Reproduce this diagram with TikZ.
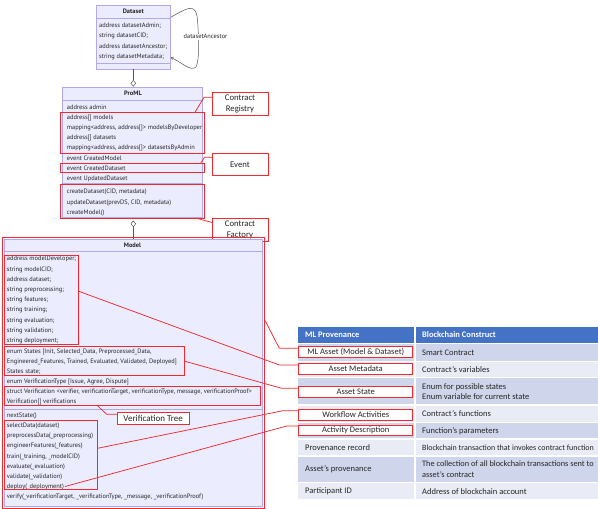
\documentclass[tikz,border=0pt]{standalone}
\usepackage{fontspec}
\setmainfont{PT Sans}
\newfontfamily\calfont{Carlito}
\usetikzlibrary{fit,arrows.meta,shapes.geometric}
\definecolor{umlfill}{HTML}{ECECFF}
\definecolor{umlline}{HTML}{B4A8EA}
\definecolor{rd}{HTML}{F02A2F}
\definecolor{hdr}{HTML}{4472C4}
\definecolor{dk}{HTML}{CFD5EA}
\definecolor{lt}{HTML}{E9EBF5}
\definecolor{tx}{HTML}{262626}
\definecolor{edge}{HTML}{555555}
\newcommand\myrbox[6][]{\node[redbox,#1,anchor=north west,minimum width={#5pt-#3pt},minimum height={#6pt-#4pt}] (#2) at (#3,#4) {};}
\begin{document}
\begin{tikzpicture}[x=1pt,y=-1pt,
  umlbox/.style={draw=umlline,fill=umlfill,line width=0.6pt,inner sep=0pt,outer sep=0pt},
  redbox/.style={draw=rd,line width=0.85pt,inner sep=0pt,outer sep=0pt},
  lbltxt/.style={font=\calfont\fontsize{#1}{10.5}\selectfont,text=tx,align=center,inner sep=0pt},
  cell/.style={fill=#1,inner sep=0pt,outer sep=0pt},
  sepline/.style={draw=umlline,line width=0.6pt},
  redline/.style={draw=rd,line width=0.75pt},
  t/.style={anchor=west,inner sep=0pt,font=\fontsize{6.4}{7}\selectfont,text=black!85},
  ttl/.style={inner sep=0pt,font=\bfseries\fontsize{6.4}{7}\selectfont,text=black!85},
  tb/.style={anchor=west,inner sep=0pt,font=\calfont\fontsize{8.5}{10.2}\selectfont,text=tx,align=left},
  tbs/.style={anchor=west,inner sep=0pt,font=\calfont\fontsize{#1}{10.2}\selectfont,text=tx,align=left},
  tbh/.style={anchor=west,inner sep=0pt,font=\calfont\bfseries\fontsize{8.5}{10}\selectfont,text=white},
  assoc/.style={draw=edge,line width=0.5pt},
  aggr/.style={draw=edge,fill=white,line width=0.5pt,shape=diamond,inner sep=0pt,minimum width=5pt,minimum height=6pt}
]
\useasboundingbox (0,0) rectangle (598,509);
\clip (0,0) rectangle (598,509);

% ---------------- Dataset ----------------
\node[umlbox,fit={(96,5) (170.7,69)}] (ds) {};
\draw[sepline] (ds.west |- 0,18.3) -- (ds.east |- 0,18.3);
\draw[sepline] (ds.west |- 0,63) -- (ds.east |- 0,63);
\node[ttl] (dst) at (133.3,11.7) {Dataset};
\node[t] (ds1) at (99,25.7) {address datasetAdmin;};
\node[t] (ds2) at (99,36) {string datasetCID;};
\node[t] (ds3) at (99,46.3) {address datasetAncestor;};
\node[t] (ds4) at (99,56.6) {string datasetMetadata;};
\coordinate (lp1) at (170.7,17.3);
\coordinate (lp2) at (170.7,57.3);
\draw[assoc,-{Straight Barb[length=2.2pt,width=3pt]}] (lp1) .. controls (186,9) and (196,1) .. (197.5,20)
   .. controls (199,40) and (199.5,60) .. (196,67) .. controls (191,72) and (181,62) .. (lp2);
\node[fill=white,inner sep=0.6pt,font=\fontsize{6.4}{7}\selectfont,text=black!85] (lbla) at (205.5,36.7) {datasetAncestor};

% ---------------- ProML ----------------
\node[umlbox,fit={(62,87) (202.7,217.5)}] (pm) {};
\draw[sepline] (pm.west |- 0,100.7) -- (pm.east |- 0,100.7);
\draw[sepline] (pm.west |- 0,183.3) -- (pm.east |- 0,183.3);
\node[ttl] (pmt) at (133,93.5) {ProML};
\node[t] (p1) at (66.7,107.7) {address admin};
\node[t] (p2) at (66.7,117.9) {address[] models};
\node[t] (p3) at (66.7,128.1) {mapping<address, address[]> modelsByDeveloper};
\node[t] (p4) at (66.7,138.2) {address[] datasets};
\node[t] (p5) at (66.7,148.4) {mapping<address, address[]> datasetsByAdmin};
\node[t] (p6) at (66.7,158.5) {event CreatedModel};
\node[t] (p7) at (66.7,168.7) {event CreatedDataset};
\node[t] (p8) at (66.7,178.8) {event UpdatedDataset};
\node[t] (p9) at (66.7,192.3) {createDataset(CID, metadata)};
\node[t] (p10) at (66.7,202.5) {updateDataset(prevDS, CID, metadata)};
\node[t] (p11) at (66.7,212.6) {createModel()};

% aggregation Dataset -> ProML
\node[aggr] (dg1) at (133.3,83.3) {};
\draw[assoc] (ds.south -| dg1) -- (dg1.north);

% red boxes in ProML
\myrbox{regbox}{60.7}{112.3}{204}{153.3}
\myrbox{evbox}{60.7}{163.3}{204}{172.7}
\myrbox{facbox}{60.7}{184.3}{204}{218.3}
\myrbox[fill=white]{reglbl}{212}{92.3}{268}{115.7}
\node[lbltxt=8.7] (reglblt) at (reglbl.center) {Contract\\Registry};
\myrbox[fill=white]{evlbl}{212}{153.3}{268}{175.7}
\node[lbltxt=8.7] (evlblt) at (evlbl.center) {Event};
\myrbox[fill=white]{faclbl}{212}{218.3}{268}{241}
\node[lbltxt=8.7] (faclblt) at (faclbl.center) {Contract\\Factory};
\coordinate (rk1) at (204,97.3);
\coordinate (ek1) at (204.5,157.3);
\draw[redline] (regbox.north east) ++(-9,0) -- (rk1) -- (rk1 -| reglbl.west);
\draw[redline] (evbox.north east) ++(-3.3,0) -- (ek1) -- (ek1 -| evlbl.west);
\draw[redline] (facbox.south east) ++(-7.3,0) -- (faclbl.west |- 0,222.5);

% ---------------- Model ----------------
\node[umlbox,fit={(4,239.3) (262,506)}] (md) {};
\draw[sepline] (md.west |- 0,251) -- (md.east |- 0,251);
\draw[sepline] (md.west |- 0,408.8) -- (md.east |- 0,408.8);
\node[ttl] (mdt) at (132.5,245.3) {Model};
\node[t] (m1) at (6.7,259.3) {address modelDeveloper;};
\node[t] (m2) at (6.7,269.6) {string modelCID;};
\node[t] (m3) at (6.7,279.8) {address dataset;};
\node[t] (m4) at (6.7,290) {string preprocessing;};
\node[t] (m5) at (6.7,300.2) {string features;};
\node[t] (m6) at (6.7,310.4) {string training;};
\node[t] (m7) at (6.7,320.6) {string evaluation;};
\node[t] (m8) at (6.7,330.8) {string validation;};
\node[t] (m9) at (6.7,341) {string deployment;};
\node[t] (m10) at (6.7,351.5) {enum States [Init, Selected\_Data, Preprocessed\_Data,};
\node[t] (m11) at (6.7,361.7) {Engineered\_Features, Trained, Evaluated, Validated, Deployed]};
\node[t] (m12) at (6.7,371.4) {States state;};
\node[t] (m13) at (6.7,381.6) {enum VerificationType [Issue, Agree, Dispute]};
\node[t] (m14) at (6.7,391.8) {struct Verification <verifier, verificationTarget, verificationType, message, verificationProof>};
\node[t] (m15) at (6.7,401.9) {Verification[] verifications};
\node[t] (f1) at (6.7,416) {nextState()};
\node[t] (f2) at (6.7,426.1) {selectData(dataset)};
\node[t] (f3) at (6.7,436.2) {preprocessData(\_preprocessing)};
\node[t] (f4) at (6.7,446.4) {engineerFeatures(\_features)};
\node[t] (f5) at (6.7,456.5) {train(\_training, \_modelCID)};
\node[t] (f6) at (6.7,466.6) {evaluate(\_evaluation)};
\node[t] (f7) at (6.7,476.7) {validate(\_validation)};
\node[t] (f8) at (6.7,486.8) {deploy(\_deployment)};
\node[t] (f9) at (6.7,496.9) {verify(\_verificationTarget, \_verificationType, \_message, \_verificationProof)};

% aggregation ProML -> Model
\node[aggr] (dg2) at (133.3,223.8) {};
\draw[assoc] (dg2.south) -- (md.north -| dg2);

% red boxes in Model
\myrbox{mdred}{2}{237.5}{264.8}{508}
\myrbox{varbox}{4.8}{255.4}{78}{344.5}
\myrbox{stbox}{4.8}{346}{184}{375}
\myrbox{vfbox}{4.8}{386.7}{260}{405}
\myrbox{fnbox}{4.8}{420.8}{97.5}{489.5}
\myrbox[fill=white]{vtlbl}{117}{412.7}{189.3}{424.3}
\node[lbltxt=9] (vtlblt) at (vtlbl.center) {Verification Tree};
\coordinate (vk1) at (106.7,414.3);
\draw[redline] (vfbox.south west) ++(91.9,0) -- (vk1) -- (vk1 -| vtlbl.west);

% ---------------- Table ----------------
\node[cell=hdr,fit={(298.3,327.3) (414.3,342.7)}] (h1) {};
\node[cell=hdr,fit={(415.8,327.3) (600,342.7)}] (h2) {};
\node[tbh] (h1t) at (305,335) {ML Provenance};
\node[tbh] (h2t) at (422,335) {Blockchain Construct};
\node[cell=dk,fit={(298.3,344.3) (414.3,360.7)}] (a1) {};
\node[cell=dk,fit={(415.8,344.3) (600,360.7)}] (b1) {};
\node[cell=lt,fit={(298.3,362.3) (414.3,376.7)}] (a2) {};
\node[cell=lt,fit={(415.8,362.3) (600,376.7)}] (b2) {};
\node[cell=dk,fit={(298.3,378.3) (414.3,404)}] (a3) {};
\node[cell=dk,fit={(415.8,378.3) (600,404)}] (b3) {};
\node[cell=lt,fit={(298.3,405.6) (414.3,421.7)}] (a4) {};
\node[cell=lt,fit={(415.8,405.6) (600,421.7)}] (b4) {};
\node[cell=dk,fit={(298.3,423.3) (414.3,438.3)}] (a5) {};
\node[cell=dk,fit={(415.8,423.3) (600,438.3)}] (b5) {};
\node[cell=lt,fit={(298.3,440) (414.3,455)}] (a6) {};
\node[cell=lt,fit={(415.8,440) (600,455)}] (b6) {};
\node[cell=dk,fit={(298.3,456.7) (414.3,481.7)}] (a7) {};
\node[cell=dk,fit={(415.8,456.7) (600,481.7)}] (b7) {};
\node[cell=lt,fit={(298.3,483.3) (414.3,499.3)}] (a8) {};
\node[cell=lt,fit={(415.8,483.3) (600,499.3)}] (b8) {};

\myrbox[fill=white]{r1}{298.8}{346.7}{412.7}{357.3}
\myrbox[fill=white]{r2}{298.8}{363.3}{412.7}{374}
\myrbox[fill=white]{r3}{298.8}{386.7}{412.7}{397.3}
\myrbox[fill=white]{r4}{298.8}{409.3}{412.7}{420}
\myrbox[fill=white]{r5}{298.8}{425}{412.7}{435.3}
\node[tb,anchor=center] (r1t) at (r1.center) {ML Asset (Model \& Dataset)};
\node[tb,anchor=center] (r2t) at (r2.center) {Asset Metadata};
\node[tb,anchor=center] (r3t) at (r3.center) {Asset State};
\node[tb,anchor=center] (r4t) at (r4.center) {Workflow Activities};
\node[tb,anchor=center] (r5t) at (r5.center) {Activity Description};
\node[tb] (a6t) at (305,447.5) {Provenance record};
\node[tb] (a7t) at (305,469.2) {Asset’s provenance};
\node[tb] (a8t) at (305,491.3) {Participant ID};

\node[tb] (b1t) at (422,352.5) {Smart Contract};
\node[tb] (b2t) at (422,369.5) {Contract’s variables};
\node[tb] (b3t) at (422,391.2) {Enum for possible states\\Enum variable for current state};
\node[tb] (b4t) at (422,413.7) {Contract’s functions};
\node[tb] (b5t) at (422,430.8) {Function’s parameters};
\node[tbs=8.0] (b6t) at (422,447.5) {Blockchain transaction that invokes contract function};
\node[tbs=8.3] (b7t) at (422,469.2) {The collection of all blockchain transactions sent to\\asset’s contract};
\node[tb] (b8t) at (422,491.3) {Address of blockchain account};

% ---------------- long red connectors ----------------
\coordinate (k1) at (279.3,348.3);
\coordinate (k2) at (279.3,365);
\coordinate (k3) at (281.7,388.3);
\coordinate (k4) at (283,410.7);
\coordinate (k5) at (286.7,426);
\coordinate (fe) at (65,486.5);
\draw[redline] (mdred.east |- 0,320) -- (k1) -- (k1 -| r1.west);
\draw[redline] (varbox.east |- 0,291) -- (k2) -- (k2 -| r2.west);
\draw[redline] (stbox.east |- 0,361) -- (k3) -- (k3 -| r3.west);
\draw[redline] (fnbox.east |- 0,448.3) -- (k4) -- (k4 -| r4.west);
\draw[redline] (fe) -- (k5) -- (k5 -| r5.west);
\end{tikzpicture}
\end{document}
